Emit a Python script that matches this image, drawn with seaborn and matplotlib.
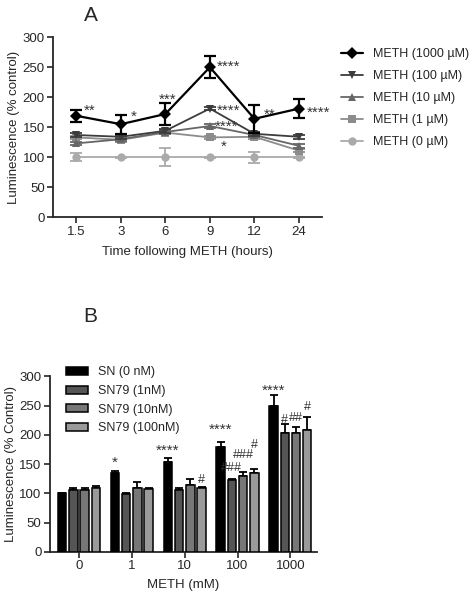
import numpy as np
import pandas as pd
import seaborn as sns
import matplotlib
matplotlib.use("Agg")
import matplotlib.pyplot as plt

# ---- panel A: time course ----
times = ["1.5", "3", "6", "9", "12", "24"]
doses = ["METH (1000 \u00b5M)", "METH (100 \u00b5M)", "METH (10 \u00b5M)",
         "METH (1 \u00b5M)", "METH (0 \u00b5M)"]
meth_1000 = [169, 155, 172, 250, 164, 181]
meth_1000_err = [10, 16, 19, 18, 23, 16]
meth_100 = [137, 134, 144, 181, 139, 134]
meth_100_err = [3, 3, 3, 3, 3, 3]
meth_10 = [123, 130, 142, 152, 137, 119]
meth_10_err = [3, 3, 3, 3, 3, 3]
meth_1 = [133, 129, 141, 133, 134, 111]
meth_1_err = [3, 3, 3, 3, 3, 3]
meth_0 = [100, 100, 100, 100, 100, 100]
meth_0_err = [7, 1, 15, 1, 9, 1]

a_colors = ["#000000", "#3c3c3c", "#666666", "#8c8c8c", "#aaaaaa"]
a_markers = ["D", "v", "^", "s", "o"]

# significance labels: text, x (category units), y
a_stars = ["**", "*", "***", "****", "**", "****", "****", "****", "*"]
a_star_x = [0.31, 1.28, 2.04, 3.41, 4.35, 5.45, 3.41, 3.38, 3.3]
a_star_y = [182, 173, 201, 255, 176, 179, 182, 156, 123]

# ---- panel B: SN79 ----
meth_conc = ["0", "1", "10", "100", "1000"]
treatments = ["SN (0 nM)", "SN79 (1nM)", "SN79 (10nM)", "SN79 (100nM)"]
sn_0 = [100, 134, 153, 180, 250]
sn_0_err = [1, 4, 7, 8, 18]
sn79_1 = [105, 99, 105, 123, 203]
sn79_1_err = [4, 2, 4, 1, 16]
sn79_10 = [105, 109, 115, 130, 203]
sn79_10_err = [4, 10, 10, 6, 11]
sn79_100 = [110, 107, 109, 135, 209]
sn79_100_err = [3, 3, 2, 6, 22]
b_colors = ["#000000", "#555555", "#777777", "#9a9a9a"]

# (group index, treatment index, label, y)
b_marks = [(1, 0, "*", 157), (2, 0, "****", 177), (2, 3, "#", 128),
           (3, 0, "****", 213), (3, 1, "###", 148), (3, 2, "###", 170),
           (3, 3, "#", 188), (4, 0, "****", 280), (4, 1, "#", 230),
           (4, 2, "##", 233), (4, 3, "#", 253)]

sns.set_style("ticks")
plt.rcParams["font.family"] = ["Liberation Sans", "DejaVu Sans"]
plt.rcParams["font.size"] = 9

fig = plt.figure(figsize=(4.75, 6.0), dpi=100)

# ---------- A ----------
ax = fig.add_axes([0.112, 0.638, 0.566, 0.3])
a_vals = [meth_1000, meth_100, meth_10, meth_1, meth_0]
a_errs = [meth_1000_err, meth_100_err, meth_10_err, meth_1_err, meth_0_err]
pos = np.arange(len(times))
for i in reversed(range(len(doses))):
    lw = 1.6 if i == 0 else 1.3
    sns.lineplot(x=pos, y=a_vals[i], ax=ax, color=a_colors[i],
                 marker=a_markers[i], markersize=6, markeredgewidth=0,
                 linewidth=lw, label=doses[i], zorder=3 + (5 - i))
    ax.errorbar(pos, a_vals[i], yerr=a_errs[i], fmt="none",
                ecolor=a_colors[i], elinewidth=lw, capsize=4,
                capthick=lw, zorder=3 + (5 - i))
h, l = ax.get_legend_handles_labels()
ax.legend(h[::-1], l[::-1], loc="upper left", bbox_to_anchor=(1.03, 1.0),
          frameon=False, fontsize=9, handlelength=1.75, labelspacing=0.8,
          handletextpad=0.8)
for txt, x, y in zip(a_stars, a_star_x, a_star_y):
    ax.text(x, y - 5, txt, ha="center", va="center", fontsize=11,
            color="#333333")
ax.set_xlim(-0.52, 5.52)
ax.set_ylim(0, 300)
ax.set_xticks(pos)
ax.set_xticklabels(times)
ax.set_yticks(range(0, 301, 50))
ax.set_xlabel("Time following METH (hours)", fontsize=9.5, labelpad=6)
ax.set_ylabel("Luminescence (% control)", fontsize=9.5, labelpad=2)
ax.text(0.115, 1.067, "A", transform=ax.transAxes, fontsize=15,
        ha="left", va="bottom")
for s in ["left", "bottom"]:
    ax.spines[s].set_linewidth(1.3)
sns.despine(ax=ax)
ax.tick_params(width=1.2, length=4, labelsize=9.5, pad=2)

# ---------- B ----------
bx = fig.add_axes([0.105, 0.08, 0.562, 0.293])
b_vals = [sn_0, sn79_1, sn79_10, sn79_100]
b_errs = [sn_0_err, sn79_1_err, sn79_10_err, sn79_100_err]
rows = []
for t, vals in zip(treatments, b_vals):
    for c, v in zip(meth_conc, vals):
        rows.append({"meth": c, "treat": t, "val": v})
df_b = pd.DataFrame(rows)
sns.barplot(data=df_b, x="meth", y="val", hue="treat", order=meth_conc,
            hue_order=treatments, palette=b_colors, errorbar=None,
            width=0.85, gap=0.25, edgecolor="black", linewidth=1.1,
            saturation=1, ax=bx, zorder=3)
bar_groups = list(bx.containers)
centers = []
for k, cont in enumerate(bar_groups):
    xs = [p.get_x() + p.get_width() / 2 for p in cont.patches]
    centers.append(xs)
    bx.errorbar(xs, b_vals[k], yerr=[np.zeros(len(xs)), b_errs[k]],
                fmt="none", ecolor="black", elinewidth=1.3, capsize=3,
                capthick=1.3, zorder=2)
for g, t, txt, y in b_marks:
    bx.text(centers[t][g], y - 5, txt, ha="center", va="center",
            fontsize=11 if "*" in txt else 9, color="#333333")
bx.legend(loc="upper left", bbox_to_anchor=(0.02, 1.12), frameon=False,
          fontsize=9, handlelength=1.75, handleheight=0.6,
          labelspacing=0.53, handletextpad=0.8)
bx.set_xlim(-0.55, 4.5)
bx.set_ylim(0, 300)
bx.set_yticks(range(0, 301, 50))
bx.set_xlabel("METH (mM)", fontsize=9.5, labelpad=5)
bx.set_ylabel("Luminescence (% Control)", fontsize=9.5, labelpad=2)
bx.text(0.124, 1.284, "B", transform=bx.transAxes, fontsize=15,
        ha="left", va="bottom")
for s in ["left", "bottom"]:
    bx.spines[s].set_linewidth(1.3)
sns.despine(ax=bx)
bx.tick_params(width=1.2, length=4, labelsize=9.5, pad=2)

fig.savefig("out.png", dpi=100)
